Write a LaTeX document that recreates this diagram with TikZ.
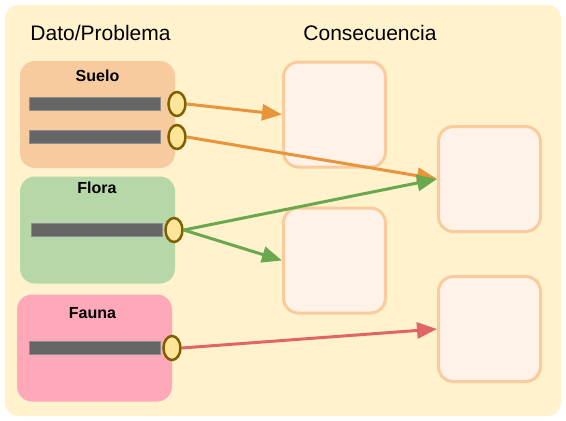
\documentclass[tikz,border=0pt]{standalone}
\usepackage{fontspec}
\setmainfont{Liberation Sans}
\usetikzlibrary{shapes.geometric,arrows.meta}
\definecolor{bgc}{HTML}{FFF2CC}
\definecolor{suelofill}{HTML}{F8CB9F}
\definecolor{florafill}{HTML}{B6D7A8}
\definecolor{faunafill}{HTML}{FFA8BA}
\definecolor{consfill}{HTML}{FFF2E8}
\definecolor{consdraw}{HTML}{FACB9C}
\definecolor{barfill}{HTML}{666666}
\definecolor{bardraw}{HTML}{8C8C8C}
\definecolor{portfill}{HTML}{FFE599}
\definecolor{portdraw}{HTML}{7F6000}
\definecolor{arrorange}{HTML}{E8943A}
\definecolor{arrgreen}{HTML}{6AA84F}
\definecolor{arrred}{HTML}{E06666}
\tikzset{
  groupbox/.style={rectangle, rounded corners=15pt, draw=none, minimum width=155pt, minimum height=107pt, inner sep=0pt},
  consbox/.style={rectangle, rounded corners=15pt, draw=consdraw, fill=consfill, line width=3pt, minimum width=102pt, minimum height=105pt, inner sep=0pt},
  bar/.style={rectangle, fill=barfill, draw=bardraw, line width=0.8pt, minimum width=131pt, minimum height=13pt, inner sep=0pt},
  port/.style={ellipse, fill=portfill, draw=portdraw, line width=2.5pt, minimum width=17pt, minimum height=24pt, inner sep=0pt},
  grouplabel/.style={font=\fontsize{16}{19}\selectfont\bfseries, inner sep=0pt},
  titlelabel/.style={font=\fontsize{21}{25}\selectfont, inner sep=0pt},
  conn/.style={line width=3pt, -{Triangle[length=20pt,width=16pt]}, shorten <=0pt},
}
\begin{document}
\begin{tikzpicture}[x=1pt,y=-1pt]
\useasboundingbox (0,0) rectangle (566,421);
\fill[bgc, rounded corners=13pt] (5,5) rectangle (561,416);
\node[titlelabel] (t1) at (100.5,33) {Dato/Problema};
\node[titlelabel] (t2) at (370,33) {Consecuencia};
% groups
\node[groupbox, fill=suelofill] (suelo) at (97.5,114.5) {};
\node[groupbox, fill=florafill] (flora) at (97.5,230) {};
\node[groupbox, fill=faunafill] (fauna) at (94.5,348) {};
\node[grouplabel] (ls) at (97.5,76) {Suelo};
\node[grouplabel] (lf) at (97,188) {Flora};
\node[grouplabel] (la) at (92.5,313) {Fauna};
% bars
\node[bar] (b1) at (95,104) {};
\node[bar] (b2) at (95,137) {};
\node[bar] (b3) at (97,230) {};
\node[bar] (b4) at (95,348) {};
% ports
\node[port] (p1) at (177,104) {};
\node[port] (p2) at (177,137) {};
\node[port] (p3) at (174,230) {};
\node[port] (p4) at (172,348) {};
% consequence boxes
\node[consbox] (c1) at (334.5,114.5) {};
\node[consbox] (c2) at (334.5,260.5) {};
\node[consbox] (c3) at (489.5,179) {};
\node[consbox] (c4) at (489.5,329) {};
% connectors
\draw[conn, arrorange] (p1.east) -- (c1.west);
\draw[conn, arrorange] (p2.east) -- (c3.west);
\draw[conn, arrgreen] (p3.east) -- (c3.west);
\draw[conn, arrgreen] (p3.east) -- (c2.west);
\draw[conn, arrred] (p4.east) -- (c4.west);
\end{tikzpicture}
\end{document}
